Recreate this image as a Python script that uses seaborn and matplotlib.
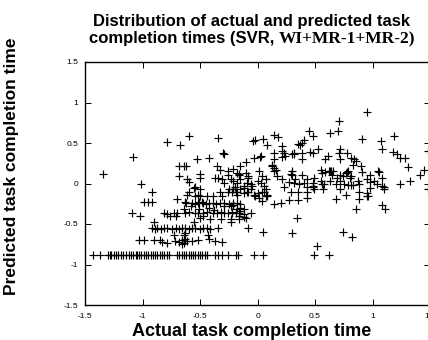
import numpy as np
import pandas as pd
import matplotlib
matplotlib.use("Agg")
import matplotlib.pyplot as plt
import seaborn as sns

# scattered points above the bottom row (actual, predicted)
upper_x = [-0.79, -0.67, -0.60, -0.34, -1.08, -1.34, -1.01, -0.92, -0.53, -0.42, -0.30, -0.29,
           -0.68, -0.64, -0.62, -0.68, -0.61, -0.60, -0.50, -0.50,
           -0.35, -0.33, -0.26, -0.26, -0.37, -0.34, -0.31, -0.29,
           -0.23, -0.21, -0.16, -0.15, -0.10, -0.03, 0.02, -0.02, -0.04, 0.05,
           -0.08, -0.09, -0.05, 0.00,
           -0.50, -0.55, -0.52, -0.39, -0.31, -0.25, -0.22, -0.18, -0.12, -0.06, -0.02,
           -0.21, -0.18,
           0.95, 0.71, 0.70, 0.45, 0.48, 0.63, 0.14, 0.18, 0.08,
           0.21, 0.21, 0.23, 0.21, 0.24, 0.32, 0.37, 0.40, 0.39, 0.35,
           0.14, 0.14, 0.03,
           0.48, 0.53, 0.61, 0.59, 0.72, 0.71, 0.72, 0.78, 0.81, 0.84, 0.86, 0.83, 0.90,
           0.91, 1.07, 1.08, 1.19, 1.18, 1.21, 1.24, 1.28, 1.31, 1.45, 1.41, 1.33, 1.24, 1.48, 1.48,
           0.13, 0.14, 0.16, 0.30, 0.32, 0.39, 0.39, 0.46, 0.30, 0.30]
upper_y = [0.51, 0.47, 0.59, 0.56, 0.33, 0.12, -0.01, -0.11, 0.30, 0.32, 0.38, 0.36,
           0.21, 0.21, 0.21, 0.09, 0.05, 0.02, 0.12, 0.07,
           0.22, 0.17, 0.15, 0.10, 0.07, 0.07, 0.05, 0.01,
           0.05, 0.03, 0.11, 0.21, 0.26, 0.32, 0.33, 0.54, 0.52, 0.55,
           0.07, 0.01, -0.03, 0.03,
           -0.07, -0.05, -0.14, -0.16, -0.16, -0.07, -0.10, -0.11, -0.05, -0.07, -0.16,
           0.18, 0.13,
           0.88, 0.77, 0.65, 0.65, 0.59, 0.62, 0.60, 0.58, 0.48,
           0.46, 0.40, 0.38, 0.33, 0.34, 0.36, 0.48, 0.54, 0.50, 0.49,
           0.38, 0.30, 0.34,
           0.38, 0.42, 0.34, 0.30, 0.42, 0.38, 0.30, 0.38, 0.32, 0.30, 0.28, 0.23, 0.21,
           0.55, 0.53, 0.43, 0.59, 0.39, 0.36, 0.32, 0.32, 0.20, 0.17, 0.11, 0.03, -0.01, 0.40, -0.07,
           0.23, 0.19, 0.17, 0.36, 0.38, 0.38, 0.30, 0.39, 0.15, 0.11]

# middle band, right half
mid_x = [-0.16, -0.10, -0.15, -0.08, 0.01, 0.04, 0.07, 0.13, 0.14, 0.17, 0.21, 0.29, 0.33, 0.39, 0.43,
         0.55, 0.59, 0.63, 0.72, 0.78, 0.81, 0.91, 0.98, 1.05, 1.08,
         0.81, 0.88, 0.95, 0.98, 1.04, 1.10, 1.10, 0.88, 0.95,
         0.27, 0.32, 0.36, 0.40, 0.43, 0.48, 0.55, 0.56, 0.63, 0.68, 0.72, 0.75,
         0.06, 0.03, -0.06, -0.12, -0.18, -0.20,
         -0.19, -0.08, 0.04, 0.07, 0.08, 0.23, 0.29, 0.35, 0.43, 0.49, 0.58, 0.72, 0.77,
         0.62, 0.64, 0.66, 0.56, 0.65, 0.74, 0.77, 0.79, 0.69,
         1.06, 1.01, 1.08,
         0.49, 0.48, 0.48, 0.57, 0.83, 0.87, 0.80, 0.88, 0.96, 0.98, 0.68, 0.86, 1.08, 1.11]
mid_y = [0.12, 0.13, 0.05, 0.09, 0.15, 0.09, 0.06, 0.21, 0.15, 0.09, 0.05, 0.12, 0.06, 0.10, 0.05,
         0.17, 0.14, 0.16, 0.10, 0.14, 0.09, 0.14, 0.10, 0.15, 0.07,
         -0.02, -0.01, 0.05, 0.02, -0.01, -0.07, -0.04, -0.10, -0.12,
         0.02, 0.01, -0.01, 0.01, -0.04, -0.03, 0.03, -0.01, 0.03, 0.00, 0.03, -0.01,
         -0.03, 0.01, -0.01, -0.03, 0.01, -0.04,
         -0.11, -0.10, -0.11, -0.07, -0.15, -0.04, -0.11, -0.10, -0.11, -0.07, -0.01, -0.07, -0.14,
         0.15, 0.16, 0.16, 0.13, 0.11, 0.09, 0.13, 0.16, 0.07,
         0.14, 0.03, -0.03,
         0.07, 0.01, -0.04, -0.07, -0.02, 0.03, 0.07, -0.19, -0.16, -0.05, -0.19, -0.32, -0.26, -0.32]

# lower middle and left cluster
low_x = [-0.21, -0.15, -0.12, 0.00, 0.06, 0.07, 0.14, 0.20, 0.27, 0.35, 0.43, 0.79, 0.95,
         -0.08, 0.05, 0.30, 0.34, 0.74, 0.82, 0.52,
         0.04, 0.08, 0.01,
         -0.23, -0.22, -0.21, -0.18, -0.15, -0.12, -0.10, -0.06, -0.23, -0.16,
         -0.70, -0.61, -0.60, -0.54, -0.44, -0.33, -0.26, -0.18, -0.09, -0.03,
         -0.99, -0.95, -0.92, -0.63, -0.51, -0.48, -0.50, -0.54, -0.64, -1.09, -1.02,
         -0.62, -0.57, -0.54, -0.52, -0.47, -0.45, -0.42, -0.39, -0.36, -0.33, -0.29, -0.25, -0.21, -0.18, -0.15,
         -0.58, -0.51, -0.42, -0.38, -0.29, -0.21, -0.15, -0.12,
         -0.81, -0.79, -0.73, -0.70, -0.63, -0.60, -0.54, -0.52, -0.47, -0.44, -0.39, -0.35, -0.32, -0.29,
         -0.26, -0.22, -0.19, -0.16, -0.76, -0.71,
         -0.55, -0.50, -0.47, -0.41, -0.32, -0.23, -0.16, -0.12, -0.90,
         -0.92, -0.89, -0.87, -0.84, -0.81, -0.79, -0.74, -0.71, -0.68, -0.66, -0.63, -0.60, -0.57, -0.54,
         -0.50, -0.47, -0.44, -0.41, -0.34,
         -0.73, -0.64, -0.63, -0.43,
         -1.03, -0.99, -0.90, -0.85, -0.83, -0.79, -0.72, -0.68, -0.66, -0.63, -0.61, -0.57, -0.52,
         -0.42, -0.37, -0.31, -0.66, -0.64]
low_y = [-0.07, -0.07, -0.12, -0.12, -0.10, -0.16, -0.25, -0.24, -0.20, -0.20, -0.18, -0.02, -0.16,
         -0.55, -0.60, -0.61, -0.42, -0.60, -0.66, -0.77,
         -0.22, -0.14, -0.18,
         -0.28, -0.36, -0.26, -0.32, -0.34, -0.38, -0.42, -0.36, -0.44, -0.40,
         -0.19, -0.14, -0.10, -0.04, -0.15, -0.11, -0.10, -0.14, -0.11, -0.14,
         -0.23, -0.23, -0.23, -0.23, -0.23, -0.23, -0.16, -0.16, -0.32, -0.37, -0.40,
         -0.24, -0.24, -0.25, -0.24, -0.24, -0.25, -0.24, -0.24, -0.25, -0.24, -0.24, -0.25, -0.24, -0.24, -0.25,
         -0.28, -0.31, -0.30, -0.33, -0.28, -0.27, -0.30, -0.32,
         -0.36, -0.38, -0.36, -0.37, -0.36, -0.35, -0.36, -0.37, -0.36, -0.35, -0.37, -0.36, -0.35, -0.37,
         -0.36, -0.35, -0.37, -0.36, -0.40, -0.40,
         -0.47, -0.42, -0.40, -0.44, -0.44, -0.47, -0.44, -0.41, -0.47,
         -0.55, -0.56, -0.55, -0.56, -0.55, -0.55, -0.56, -0.55, -0.56, -0.55, -0.55, -0.56, -0.55, -0.55,
         -0.56, -0.55, -0.55, -0.56, -0.55,
         -0.63, -0.64, -0.61, -0.63,
         -0.70, -0.70, -0.70, -0.70, -0.72, -0.73, -0.71, -0.72, -0.70, -0.68, -0.71, -0.71, -0.70,
         -0.69, -0.71, -0.72, -0.75, -0.73]

# bottom row, predicted value stuck near -0.88
floor_x = [-1.43, -1.37, -1.30, -1.28, -1.27, -1.25, -1.23, -1.21, -1.19, -1.17, -1.14, -1.12,
           -1.10, -1.08, -1.06, -1.05, -1.03, -1.01, -0.99, -0.97, -0.95, -0.93, -0.91, -0.89,
           -0.87, -0.85, -0.83, -0.81, -0.79, -0.77, -0.70, -0.68, -0.66, -0.64, -0.62, -0.60,
           -0.58, -0.56, -0.54, -0.52, -0.50, -0.48, -0.46, -0.44, -0.37, -0.34, -0.31, -0.26,
           -0.19, -0.17, -0.03, 0.05, 0.49, 0.62]
floor_y = [-0.88] * len(floor_x)

ticks = [-1.5, -1, -0.5, 0, 0.5, 1, 1.5]
tick_labels = ["-1.5", "-1", "-0.5", "0", "0.5", "1", "1.5"]

df = pd.DataFrame({
    "actual": upper_x + mid_x + low_x + floor_x,
    "predicted": upper_y + mid_y + low_y + floor_y,
})

sns.set_style("ticks")
plt.rcParams["font.family"] = ["Liberation Sans", "DejaVu Sans"]
plt.rcParams["text.color"] = "black"

W, H = 428, 340
fig = plt.figure(figsize=(W / 100, H / 100), dpi=100)
ax = fig.add_axes([85 / W, 35 / H, 345 / W, 243 / H])

sns.scatterplot(data=df, x="actual", y="predicted", marker="+", color="black",
                s=32, linewidth=0.85, ax=ax)

ax.set_xlim(-1.5, 1.5)
ax.set_ylim(-1.5, 1.5)
ax.set_xticks(ticks)
ax.set_xticklabels(tick_labels)
ax.set_yticks(ticks)
ax.set_yticklabels(tick_labels)
ax.tick_params(direction="in", length=4, width=0.7, labelsize=6, colors="black",
               top=True, right=True)
ax.tick_params(axis="x", pad=6)
ax.tick_params(axis="y", pad=5)
for sp in ax.spines.values():
    sp.set_visible(True)
    sp.set_linewidth(1.0)
    sp.set_color("black")

ax.set_xlabel("")
ax.set_ylabel("")
fig.text(252 / W, 1 - 336 / H, "Actual task completion time", ha="center", va="baseline",
         fontsize=13, fontweight="bold")
fig.text(12 / W, 1 - 166 / H, "Predicted task completion time", ha="center", va="center",
         rotation=90, fontsize=12.5, fontweight="bold")

# title: first line sans, second line mixes sans and serif
fig.text(252 / W, 1 - 26 / H, "Distribution of actual and predicted task", ha="center",
         va="baseline", fontsize=12, fontweight="bold")
fig.canvas.draw()
r = fig.canvas.get_renderer()
ta = fig.text(0, 1 - 43 / H, "completion times (SVR,", va="baseline", fontsize=12,
              fontweight="bold")
tb = fig.text(0, 1 - 43 / H, "WI+MR-1+MR-2)", va="baseline", fontsize=12.5,
              fontweight="bold", family=["Liberation Serif", "DejaVu Serif"])
wa = ta.get_window_extent(r).width
wb = tb.get_window_extent(r).width
gap = 4
start = 252 - (wa + gap + wb) / 2
ta.set_x(start / W)
tb.set_x((start + wa + gap) / W)

fig.savefig("out.png", dpi=100)
